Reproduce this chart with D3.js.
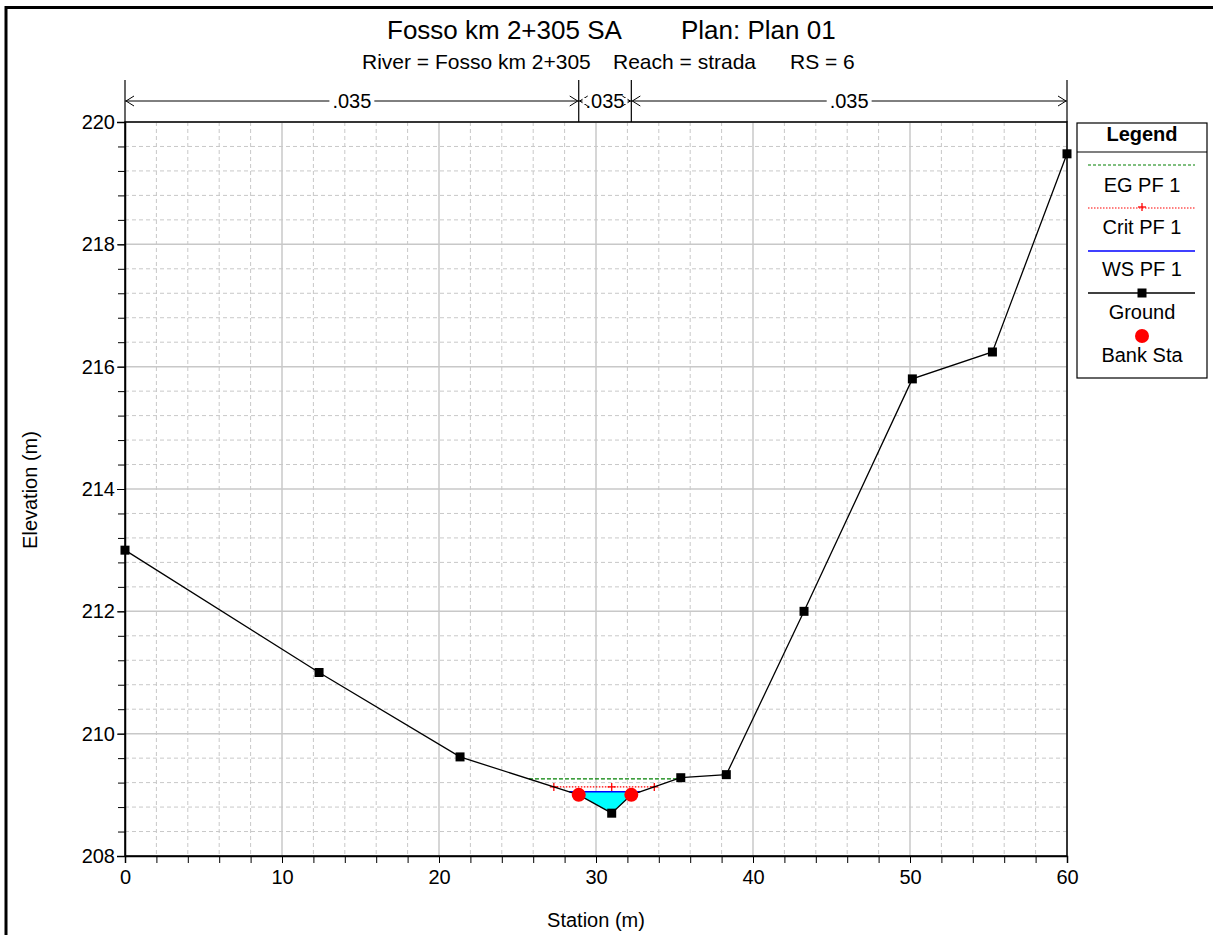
<!DOCTYPE html>
<html><head><meta charset="utf-8">
<script src="https://cdn.jsdelivr.net/npm/d3@7"></script>
<style>body{margin:0;background:#fff}svg{display:block;font-family:Arial,"Liberation Sans",sans-serif}</style>
</head><body><svg id="c" width="1213" height="935"></svg>
<script>
// ---- data ----
const groundStation = [0, 12.36, 21.34, 28.9, 31.0, 32.25, 35.4, 38.3, 43.25, 50.15, 55.25, 60];
const groundElev    = [213.0, 211.0, 209.62, 209.0, 208.7, 209.0, 209.28, 209.33, 212.0, 215.8, 216.24, 219.48];
const bankStations  = [28.9, 32.25];
const wsElev = 209.05;
const critElev = 209.13;
const egElev = 209.26;
const critMarkStations = [31.0];
const nValues = [".035", ".035", ".035"];
const nBreaks = [0, 28.9, 32.25, 60];
const xTicks = [0, 10, 20, 30, 40, 50, 60];
const yTicks = [208, 210, 212, 214, 216, 218, 220];
const legendItems = ["EG PF 1", "Crit PF 1", "WS PF 1", "Ground", "Bank Sta"];
const titleParts = ["Fosso km 2+305 SA", "Plan: Plan 01"];
const subtitleParts = ["River = Fosso km 2+305", "Reach = strada", "RS = 6"];

const svg = d3.select("#c");
const L = 125, R = 1067, T = 122, B = 856;
const FS = 20;
const x = d3.scaleLinear().domain([0, 60]).range([L, R]);
const y = d3.scaleLinear().domain([208, 220]).range([B, T]);
const ground = groundStation.map((s, i) => [s, groundElev[i]]);

// outer frame
svg.append("rect").attr("x", 6).attr("y", 7.5).attr("width", 1230).attr("height", 960)
  .attr("fill", "none").attr("stroke", "#000").attr("stroke-width", 3);

// grid
const g = svg.append("g");
const xMinor = d3.range(0, 60.01, 2), yMinor = d3.range(208, 220.01, 0.4);
g.selectAll(".xm").data(xMinor.filter(v => v % 10 !== 0)).join("line")
  .attr("x1", d => x(d)).attr("x2", d => x(d)).attr("y1", T).attr("y2", B)
  .attr("stroke", "#c8c8c8").attr("stroke-dasharray", "4,3");
g.selectAll(".ym").data(yMinor.filter(v => Math.abs(v / 2 - Math.round(v / 2)) > 0.01)).join("line")
  .attr("x1", L).attr("x2", R).attr("y1", d => y(d)).attr("y2", d => y(d))
  .attr("stroke", "#c8c8c8").attr("stroke-dasharray", "4,3");
g.selectAll(".xM").data(xTicks).join("line")
  .attr("x1", d => x(d)).attr("x2", d => x(d)).attr("y1", T).attr("y2", B)
  .attr("stroke", "#c8c8c8").attr("stroke-width", 1.5);
g.selectAll(".yM").data(yTicks).join("line")
  .attr("x1", L).attr("x2", R).attr("y1", d => y(d)).attr("y2", d => y(d))
  .attr("stroke", "#c8c8c8").attr("stroke-width", 1.5);

// axes
svg.append("g").attr("transform", `translate(0,${B})`)
  .call(d3.axisBottom(x).tickValues(xTicks).tickSize(7).tickPadding(7).tickFormat(d3.format("d")));
svg.append("g").attr("transform", `translate(0,${B})`)
  .call(d3.axisBottom(x).tickValues(xMinor).tickSize(7).tickFormat(""))
  .call(a => a.select(".domain").remove());
svg.append("g").attr("transform", `translate(${L},0)`)
  .call(d3.axisLeft(y).tickValues(yTicks).tickSize(8).tickPadding(2).tickFormat(d3.format("d")));
svg.append("g").attr("transform", `translate(${L},0)`)
  .call(d3.axisLeft(y).tickValues(yMinor).tickSize(7).tickFormat(""))
  .call(a => a.select(".domain").remove());
svg.selectAll(".tick text").attr("font-size", FS).attr("fill", "#000").attr("font-family", "Arial,'Liberation Sans',sans-serif");
svg.selectAll(".tick line").attr("stroke", "#000");
svg.selectAll(".domain").attr("stroke", "#000").attr("stroke-width", 1.5);
// plot box
svg.append("rect").attr("x", L).attr("y", T).attr("width", R - L).attr("height", B - T)
  .attr("fill", "none").attr("stroke", "#000").attr("stroke-width", 1.5);

// water fill polygon: clip ground below WS
function crossings(level) {
  const pts = [];
  for (let i = 0; i < ground.length - 1; i++) {
    const [s0, e0] = ground[i], [s1, e1] = ground[i + 1];
    if ((e0 - level) * (e1 - level) < 0) pts.push(s0 + (level - e0) / (e1 - e0) * (s1 - s0));
  }
  return pts;
}
const wsC = crossings(wsElev);
const wsL = wsC[0], wsR = wsC[wsC.length - 1];
const wpoly = [[wsL, wsElev], ...ground.filter(p => p[0] > wsL && p[0] < wsR), [wsR, wsElev]];
svg.append("path").attr("d", d3.line().x(d => x(d[0])).y(d => y(d[1]))(wpoly) + "Z")
  .attr("fill", "#00ffff").attr("stroke", "none");

// EG line
const egC = crossings(egElev);
svg.append("line").attr("x1", x(egC[0])).attr("x2", x(egC[egC.length - 1]))
  .attr("y1", y(egElev)).attr("y2", y(egElev))
  .attr("stroke", "#008000").attr("stroke-width", 1.3).attr("stroke-dasharray", "4,2");
// Crit line
const crC = crossings(critElev);
svg.append("line").attr("x1", x(crC[0])).attr("x2", x(crC[crC.length - 1]))
  .attr("y1", y(critElev)).attr("y2", y(critElev))
  .attr("stroke", "#ff0000").attr("stroke-width", 1.2).attr("stroke-dasharray", "1.5,1.5");
const plus = (sel, cx, cy) => {
  sel.append("line").attr("x1", cx - 4).attr("x2", cx + 4).attr("y1", cy).attr("y2", cy).attr("stroke", "#ff0000").attr("stroke-width", 1.3);
  sel.append("line").attr("x1", cx).attr("x2", cx).attr("y1", cy - 4).attr("y2", cy + 4).attr("stroke", "#ff0000").attr("stroke-width", 1.3);
};
[crC[0], ...critMarkStations, crC[crC.length - 1]].forEach(s => plus(svg, x(s), y(critElev)));
// WS line
svg.append("line").attr("x1", x(wsL)).attr("x2", x(wsR)).attr("y1", y(wsElev)).attr("y2", y(wsElev))
  .attr("stroke", "#0000ff").attr("stroke-width", 1.5);

// ground
svg.append("path").datum(ground).attr("d", d3.line().x(d => x(d[0])).y(d => y(d[1])))
  .attr("fill", "none").attr("stroke", "#000").attr("stroke-width", 1.3);
svg.selectAll(".gp").data(ground).join("rect")
  .attr("x", d => x(d[0]) - 4.5).attr("y", d => y(d[1]) - 4.5).attr("width", 9).attr("height", 9).attr("fill", "#000");
// bank stations
svg.selectAll(".bs").data(bankStations).join("circle")
  .attr("cx", d => x(d)).attr("cy", d => y(d3.max(ground.filter(p => p[0] === d), p => p[1])))
  .attr("r", 7).attr("fill", "#ff0000");

// n-value band
const ny = 101;
const band = svg.append("g");
nBreaks.forEach(s => band.append("line").attr("x1", x(s)).attr("x2", x(s)).attr("y1", 80).attr("y2", T).attr("stroke", "#000").attr("stroke-width", 1.2));
nValues.forEach((v, i) => {
  const a = x(nBreaks[i]), b = x(nBreaks[i + 1]), m = (a + b) / 2;
  band.append("line").attr("x1", a).attr("x2", b).attr("y1", ny).attr("y2", ny).attr("stroke", "#000").attr("stroke-width", 1);
  [[a, 1], [b, -1]].forEach(([px, dir]) => {
    band.append("path").attr("d", `M${px + dir * 9},${ny - 5}L${px + dir * 1},${ny}L${px + dir * 9},${ny + 5}`)
      .attr("fill", "none").attr("stroke", "#000").attr("stroke-width", 1);
  });
  const bg = band.append("rect");
  const t = band.append("text").attr("x", m).attr("y", ny + 7).attr("text-anchor", "middle").attr("font-size", FS).text(v);
  const w = t.node().getComputedTextLength();
  if (b - a > w + 12) bg.attr("x", m - w / 2 - 3).attr("y", ny - 3).attr("width", w + 6).attr("height", 6).attr("fill", "#fff");
});

// titles
const titleX = [387, 681], subX = [362, 613, 790];
titleParts.forEach((t, i) => svg.append("text").attr("x", titleX[i]).attr("y", 39).attr("font-size", 26).text(t));
subtitleParts.forEach((t, i) => svg.append("text").attr("x", subX[i]).attr("y", 69).attr("font-size", 21).text(t));
svg.append("text").attr("x", 596).attr("y", 927).attr("text-anchor", "middle").attr("font-size", FS).text("Station (m)");
svg.append("text").attr("transform", "translate(37,490) rotate(-90)").attr("text-anchor", "middle").attr("font-size", FS).text("Elevation (m)");

// legend
const lg = svg.append("g");
const lx0 = 1077, lx1 = 1207, lcx = (lx0 + lx1) / 2;
lg.append("rect").attr("x", lx0).attr("y", 123).attr("width", lx1 - lx0).attr("height", 255).attr("fill", "#fff").attr("stroke", "#000").attr("stroke-width", 1.2);
lg.append("line").attr("x1", lx0).attr("x2", lx1).attr("y1", 152).attr("y2", 152).attr("stroke", "#000").attr("stroke-width", 1.2);
lg.append("text").attr("x", lcx).attr("y", 141).attr("text-anchor", "middle").attr("font-size", FS).attr("font-weight", "bold").text("Legend");
const symY = [165, 208, 251, 293, 336], txtY = [192, 234, 276, 319, 362];
legendItems.forEach((t, i) => lg.append("text").attr("x", lcx).attr("y", txtY[i]).attr("text-anchor", "middle").attr("font-size", FS).text(t));
lg.append("line").attr("x1", 1088).attr("x2", 1195).attr("y1", symY[0]).attr("y2", symY[0]).attr("stroke", "#008000").attr("stroke-width", 1.2).attr("stroke-dasharray", "3,2");
lg.append("line").attr("x1", 1088).attr("x2", 1195).attr("y1", symY[1]).attr("y2", symY[1]).attr("stroke", "#ff0000").attr("stroke-width", 1.2).attr("stroke-dasharray", "1.5,1.5");
plus(lg, 1142, symY[1] - 1);
lg.append("line").attr("x1", 1088).attr("x2", 1195).attr("y1", symY[2]).attr("y2", symY[2]).attr("stroke", "#0000ff").attr("stroke-width", 1.5);
lg.append("line").attr("x1", 1088).attr("x2", 1195).attr("y1", symY[3]).attr("y2", symY[3]).attr("stroke", "#000").attr("stroke-width", 1.3);
lg.append("rect").attr("x", 1142 - 4.5).attr("y", symY[3] - 4.5).attr("width", 9).attr("height", 9).attr("fill", "#000");
lg.append("circle").attr("cx", 1142).attr("cy", symY[4]).attr("r", 7).attr("fill", "#ff0000");
</script></body></html>
